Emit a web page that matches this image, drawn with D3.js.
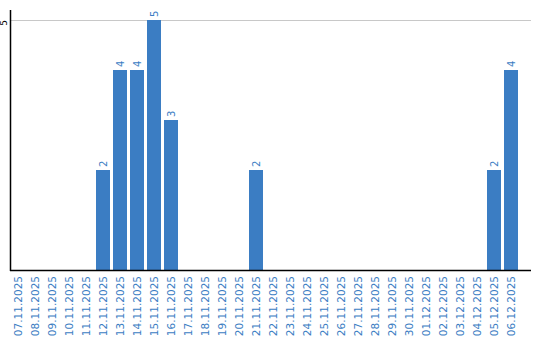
<!DOCTYPE html>
<html>
<head>
<meta charset="utf-8">
<script src="https://cdn.jsdelivr.net/npm/d3@7"></script>
<style>
  body { margin: 0; background: #fff; }
  svg { display: block; font-family: "DejaVu Sans", Verdana, sans-serif; }
</style>
</head>
<body>
<svg id="chart"></svg>
<script>
const dates = [
    "07.11.2025", "08.11.2025", "09.11.2025", "10.11.2025", "11.11.2025",
    "12.11.2025", "13.11.2025", "14.11.2025", "15.11.2025", "16.11.2025",
    "17.11.2025", "18.11.2025", "19.11.2025", "20.11.2025", "21.11.2025",
    "22.11.2025", "23.11.2025", "24.11.2025", "25.11.2025", "26.11.2025",
    "27.11.2025", "28.11.2025", "29.11.2025", "30.11.2025", "01.12.2025",
    "02.12.2025", "03.12.2025", "04.12.2025", "05.12.2025", "06.12.2025"
];
const counts = [
    0, 0, 0, 0, 0,
    2, 4, 4, 5, 3,
    0, 0, 0, 0, 2,
    0, 0, 0, 0, 0,
    0, 0, 0, 0, 0,
    0, 0, 0, 2, 4
];
const yTicks = [5];

const width = 540;
const height = 340;
const blue = "#3b7dc3";

const data = dates.map((d, i) => ({date: d, value: counts[i]}));

const svg = d3.select("#chart")
    .attr("width", width)
    .attr("height", height);

const x = d3.scaleBand()
    .domain(dates)
    .range([9.5, 519.5])
    .paddingInner(3 / 17)
    .paddingOuter(1.5 / 17);

const y = d3.scaleLinear()
    .domain([0, 5])
    .range([270, 20]);

// grid
svg.append("g")
    .selectAll("line")
    .data(yTicks)
    .join("line")
    .attr("x1", 10)
    .attr("x2", 531)
    .attr("y1", d => Math.round(y(d)) + 0.5)
    .attr("y2", d => Math.round(y(d)) + 0.5)
    .attr("stroke", "#c8c8c8");

// bars
svg.append("g")
    .selectAll("rect")
    .data(data.filter(d => d.value > 0))
    .join("rect")
    .attr("x", d => x(d.date))
    .attr("y", d => y(d.value))
    .attr("width", x.bandwidth())
    .attr("height", d => y(0) - y(d.value))
    .attr("fill", blue);

// value labels
svg.append("g")
    .selectAll("text")
    .data(data.filter(d => d.value > 0))
    .join("text")
    .attr("transform", d => `translate(${x(d.date) + x.bandwidth() / 2},${y(d.value) - 3}) rotate(-90)`)
    .attr("dy", "0.35em")
    .attr("text-anchor", "start")
    .attr("fill", blue)
    .style("font-size", "10px")
    .text(d => d.value);

// x axis
const xAxis = svg.append("g")
    .attr("transform", "translate(0,270)")
    .call(d3.axisBottom(x).tickSize(0).tickPadding(0));
xAxis.select(".domain").remove();
xAxis.selectAll("text")
    .attr("fill", blue)
    .style("font-size", "10.5px")
    .style("font-family", "DejaVu Sans, sans-serif")
    .attr("text-anchor", "end")
    .attr("dy", "0.35em")
    .attr("transform", "translate(0,6) rotate(-90)")
    .attr("y", 0);

// y tick labels
svg.append("g")
    .selectAll("text")
    .data(yTicks)
    .join("text")
    .attr("transform", d => `translate(4,${y(d) + 3}) rotate(-90)`)
    .attr("dy", "0.35em")
    .attr("text-anchor", "middle")
    .attr("fill", "#000")
    .style("font-size", "9px")
    .text(d => d);

// axis lines
svg.append("line")
    .attr("x1", 10.5).attr("x2", 10.5)
    .attr("y1", 10).attr("y2", 271)
    .attr("stroke", "#000")
    .attr("stroke-width", 1.5);
svg.append("line")
    .attr("x1", 10).attr("x2", 531)
    .attr("y1", 270.5).attr("y2", 270.5)
    .attr("stroke", "#000")
    .attr("stroke-width", 1.5);
</script>
</body>
</html>
